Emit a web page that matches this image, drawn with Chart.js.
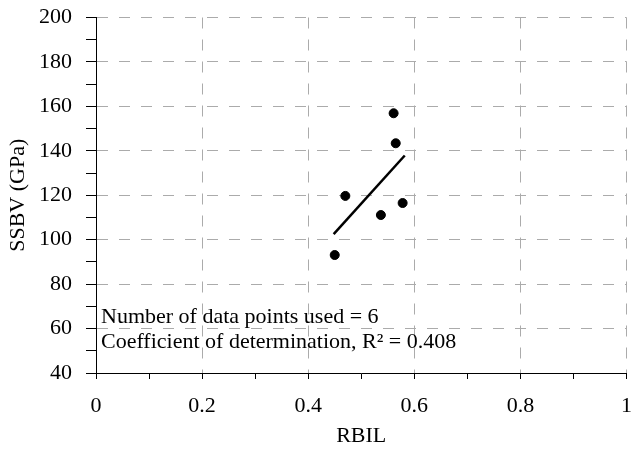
<!DOCTYPE html>
<html lang="en">
<head>
  <meta charset="UTF-8" />
  <script src="https://cdn.jsdelivr.net/npm/chart.js"></script>
  <title>SSBV vs RBIL</title>
  <style>
    body { margin: 0; background: #fff; }
  </style>
</head>
<body>
  <canvas id="grafico" width="632" height="449"></canvas>
  <script>
    // datos
    const rbil = [0.561, 0.565, 0.470, 0.578, 0.537, 0.450];
    const ssbv = [156.9, 143.4, 119.7, 116.5, 111.1, 93.1];
    const fitX = [0.448, 0.582];
    const fitY = [102.5, 137.9];
    const notas = ['Number of data points used = 6', 'Coefficient of determination, R\u00B2 = 0.408'];

    const fuente = '"Liberation Serif", "Times New Roman", serif';
    const gris = '#ababab';

    // texto de la esquina inferior izquierda
    const textoPlugin = {
      id: 'texto',
      afterDraw(chart) {
        const { ctx, chartArea } = chart;
        ctx.save();
        ctx.font = '22px ' + fuente;
        ctx.fillStyle = '#000';
        ctx.textBaseline = 'alphabetic';
        ctx.fillText(notas[0], chartArea.left + 5, chartArea.bottom - 50);
        ctx.fillText(notas[1], chartArea.left + 5, chartArea.bottom - 25.5);
        ctx.restore();
      }
    };

    const ctx = document.getElementById('grafico').getContext('2d');
    new Chart(ctx, {
      type: 'scatter',
      data: {
        datasets: [
          {
            label: 'datos',
            data: rbil.map((x, i) => ({ x: x, y: ssbv[i] })),
            backgroundColor: '#000',
            borderColor: '#000',
            pointRadius: 4.5,
            pointHoverRadius: 4.5
          },
          {
            label: 'ajuste',
            type: 'line',
            data: fitX.map((x, i) => ({ x: x, y: fitY[i] })),
            borderColor: '#000',
            borderWidth: 2.5,
            pointRadius: 0,
            fill: false
          }
        ]
      },
      options: {
        responsive: false,
        animation: false,
        layout: { padding: 0 },
        plugins: {
          legend: { display: false },
          tooltip: { enabled: false }
        },
        scales: {
          x: {
            type: 'linear',
            min: 0,
            max: 1,
            afterFit(scale) {
              scale.height = 76;
              scale.paddingLeft = 0;
              scale.paddingRight = 1;
            },
            ticks: {
              stepSize: 0.1,
              autoSkip: false,
              maxRotation: 0,
              padding: 14,
              color: '#000',
              font: { family: fuente, size: 22 },
              callback: (v) => Math.round(v * 10) % 2 === 0 ? String(Math.round(v * 10) / 10) : ''
            },
            grid: {
              color: (c) => (c.tick && Math.round(c.tick.value * 10) % 2 === 0) ? gris : 'rgba(0,0,0,0)',
              tickColor: '#000',
              tickLength: 6,
              lineWidth: 1
            },
            border: { color: '#000', width: 1, dash: [11, 11] },
            title: {
              display: true,
              text: 'RBIL',
              color: '#000',
              font: { family: fuente, size: 22 },
              padding: { top: 0, bottom: 0 }
            }
          },
          y: {
            min: 40,
            max: 200,
            afterFit(scale) {
              scale.width = 96;
              scale.paddingTop = 17.5;
              scale.paddingBottom = 0;
            },
            ticks: {
              stepSize: 10,
              autoSkip: false,
              padding: 14,
              color: '#000',
              font: { family: fuente, size: 22 },
              callback: (v) => v % 20 === 0 ? String(v) : ''
            },
            grid: {
              color: (c) => (c.tick && c.tick.value % 20 === 0) ? gris : 'rgba(0,0,0,0)',
              tickColor: '#000',
              tickLength: 10,
              lineWidth: 1
            },
            border: { color: '#000', width: 1, dash: [11, 11] },
            title: {
              display: true,
              text: 'SSBV (GPa)',
              color: '#000',
              font: { family: fuente, size: 22 },
              padding: { top: 5, bottom: 0 }
            }
          }
        }
      },
      plugins: [textoPlugin]
    });
  </script>
</body>
</html>
